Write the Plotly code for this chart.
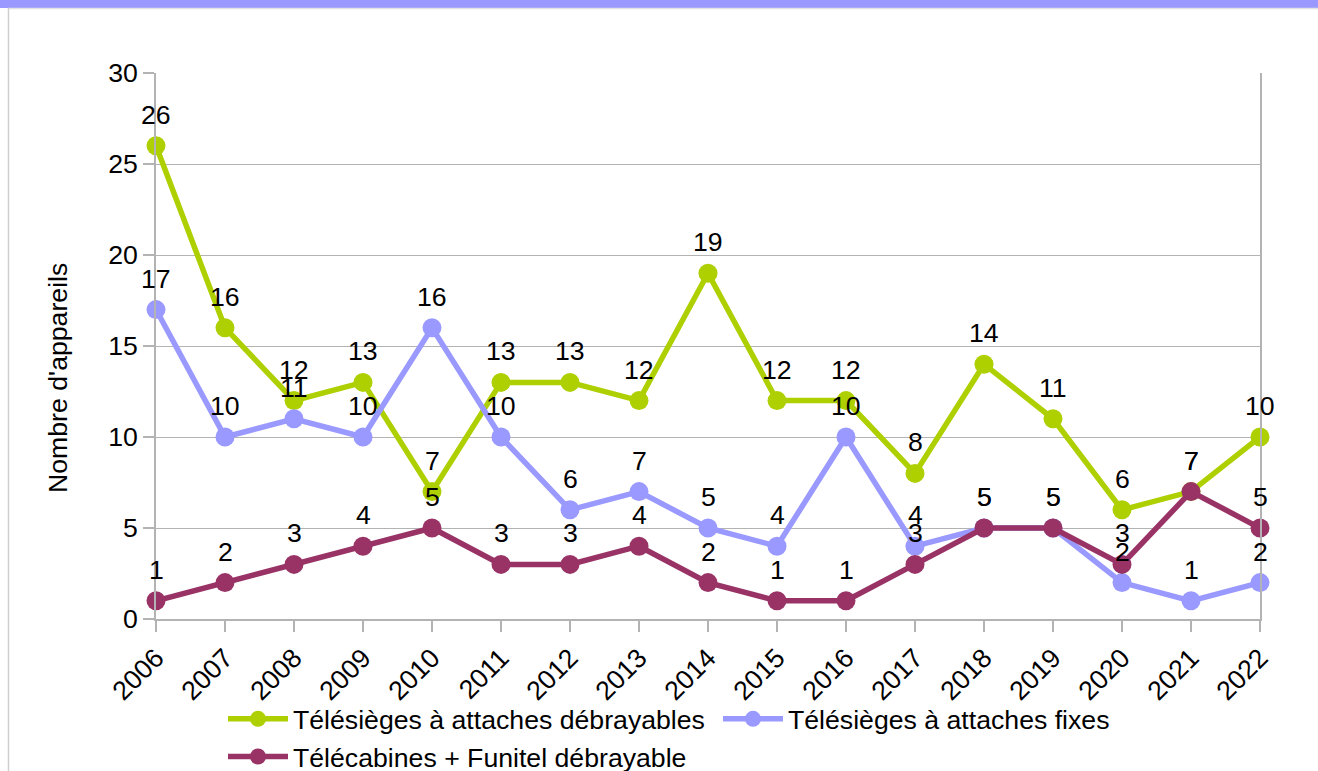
import plotly.graph_objects as go

# --- data -------------------------------------------------------------
years = [2006, 2007, 2008, 2009, 2010, 2011, 2012, 2013, 2014,
         2015, 2016, 2017, 2018, 2019, 2020, 2021, 2022]

series_names = [
    "Télésièges à attaches débrayables",
    "Télésièges à attaches fixes",
    "Télécabines + Funitel débrayable",
]
debrayables = [26, 16, 12, 13, 7, 13, 13, 12, 19, 12, 12, 8, 14, 11, 6, 7, 10]
fixes = [17, 10, 11, 10, 16, 10, 6, 7, 5, 4, 10, 4, 5, 5, 2, 1, 2]
telecabines = [1, 2, 3, 4, 5, 3, 3, 4, 2, 1, 1, 3, 5, 5, 3, 7, 5]

y_title = "Nombre d'appareils"
y_ticks = [0, 5, 10, 15, 20, 25, 30]

# --- styling ----------------------------------------------------------
colors = ["#aecf00", "#9999ff", "#993366"]
FONT = "Liberation Sans, Arial, sans-serif"
FS = 26.67
GRID = "#b3b3b3"

W, H = 1318, 771
ML, MR, MT, MB = 156, 58, 73, 152
PW, PH = W - ML - MR, H - MT - MB


def px_x(x):
    return (x - ML) / PW


def px_y(y):
    return (H - MB - y) / PH


fig = go.Figure()

all_series = [debrayables, fixes, telecabines]
for name, vals, col in zip(series_names, all_series, colors):
    fig.add_trace(go.Scatter(
        x=years, y=vals, name=name, mode="lines+markers",
        line=dict(color=col, width=5.5),
        marker=dict(color=col, size=19),
        cliponaxis=False,
    ))

# value labels above every point, drawn on top of all lines
annotations = []
for vals in all_series:
    for x, v in zip(years, vals):
        annotations.append(dict(
            x=x, y=v, xref="x", yref="y", text=str(v), showarrow=False,
            xanchor="center", yanchor="middle", yshift=31,
            font=dict(family=FONT, size=FS, color="black"),
        ))

annotations.append(dict(
    x=px_x(58), y=px_y(378), xref="paper", yref="paper", text=y_title,
    showarrow=False, textangle=-90, xanchor="center", yanchor="middle",
    font=dict(family=FONT, size=FS, color="black"),
))

shapes = [
    # header band
    dict(type="rect", xref="paper", yref="paper",
         x0=px_x(0), x1=px_x(W), y0=px_y(8), y1=px_y(0),
         fillcolor="#9999ff", line=dict(width=0), layer="above"),
    dict(type="line", xref="paper", yref="paper",
         x0=px_x(8), x1=px_x(W), y0=px_y(8.5), y1=px_y(8.5),
         line=dict(color="#e3e3e3", width=1.5)),
    # left frame edge
    dict(type="line", xref="paper", yref="paper",
         x0=px_x(8.5), x1=px_x(8.5), y0=px_y(8), y1=px_y(H),
         line=dict(color="#cfcfcf", width=1.5)),
]

fig.update_layout(
    width=W, height=H,
    margin=dict(l=ML, r=MR, t=MT, b=MB, autoexpand=False),
    paper_bgcolor="white", plot_bgcolor="white",
    font=dict(family=FONT, size=FS, color="black"),
    showlegend=True,
    legend=dict(
        orientation="h", x=px_x(223), y=px_y(695),
        xanchor="left", yanchor="top",
        itemwidth=60, entrywidth=420,
        font=dict(family=FONT, size=FS, color="black"),
        bgcolor="rgba(0,0,0,0)",
    ),
    xaxis=dict(
        range=[years[0], years[-1]], tickmode="array", tickvals=years,
        ticktext=[str(y) for y in years], tickangle=-45,
        showgrid=False, zeroline=False, automargin=False,
        showline=True, linecolor=GRID, linewidth=1.5,
        ticks="outside", ticklen=11, tickcolor=GRID, tickwidth=1.5,
        tickfont=dict(family=FONT, size=FS, color="black"),
    ),
    yaxis=dict(
        range=[0, 30], tickmode="array", tickvals=y_ticks,
        showgrid=True, gridcolor=GRID, gridwidth=1.2, zeroline=False,
        automargin=False,
        showline=True, linecolor=GRID, linewidth=1.5, mirror=True,
        ticks="outside", ticklen=11, tickcolor=GRID, tickwidth=1.5,
        ticklabelstandoff=0,
        tickfont=dict(family=FONT, size=FS, color="black"),
    ),
    annotations=annotations,
    shapes=shapes,
)

fig.write_html("out.html")
